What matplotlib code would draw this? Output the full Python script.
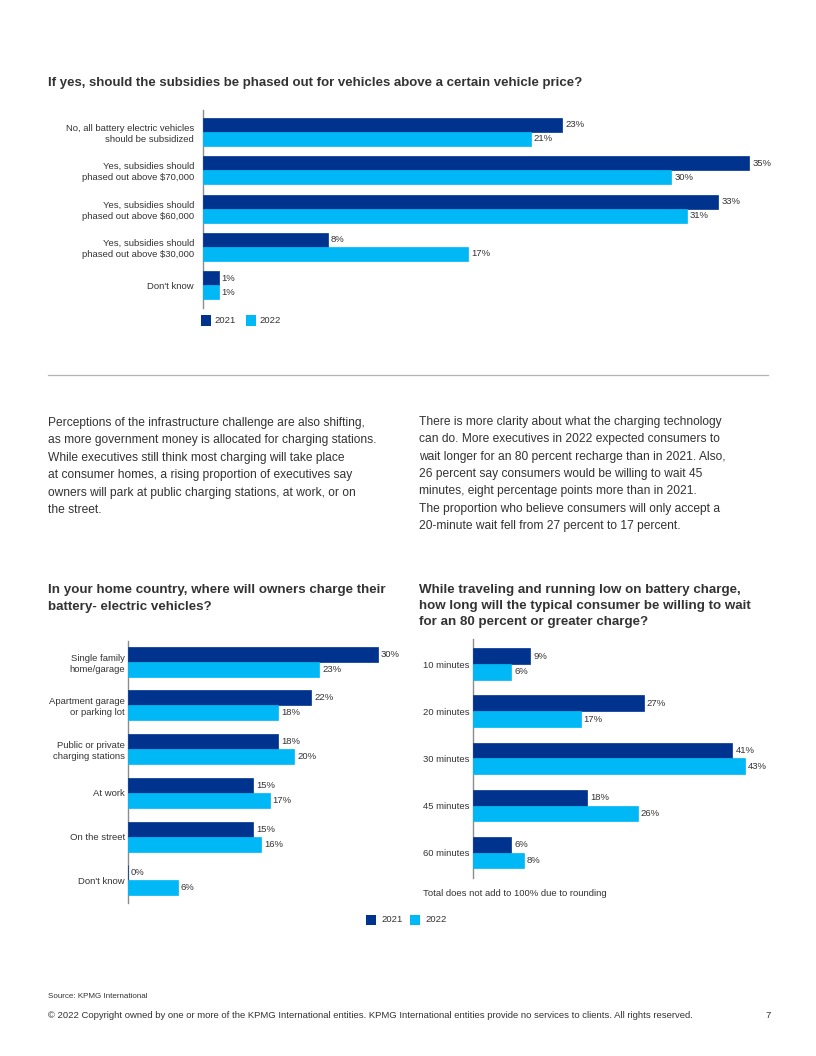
import matplotlib
matplotlib.use("Agg")
import matplotlib.pyplot as plt
import numpy as np
from matplotlib.patches import Rectangle
from matplotlib.lines import Line2D

plt.rcParams['font.family'] = ['Liberation Sans', 'DejaVu Sans']

W, H = 816, 1056
DARK = '#00338D'
LIGHT = '#00B8F5'
TXT = '#333333'
AXC = '#8c8c8c'

# ---------------- data ----------------
series_names = ["2021", "2022"]

q1_title = "If yes, should the subsidies be phased out for vehicles above a certain vehicle price?"
q1_cats = ["No, all battery electric vehicles\nshould be subsidized",
           "Yes, subsidies should\nphased out above $70,000",
           "Yes, subsidies should\nphased out above $60,000",
           "Yes, subsidies should\nphased out above $30,000",
           "Don't know"]
q1_2021 = [23, 35, 33, 8, 1]
q1_2022 = [21, 30, 31, 17, 1]

q2_title = "In your home country, where will owners charge their\nbattery- electric vehicles?"
q2_cats = ["Single family\nhome/garage", "Apartment garage\nor parking lot",
           "Public or private\ncharging stations", "At work", "On the street", "Don't know"]
q2_2021 = [30, 22, 18, 15, 15, 0]
q2_2022 = [23, 18, 20, 17, 16, 6]

q3_title = ("While traveling and running low on battery charge,\n"
            "how long will the typical consumer be willing to wait\n"
            "for an 80 percent or greater charge?")
q3_cats = ["10 minutes", "20 minutes", "30 minutes", "45 minutes", "60 minutes"]
q3_2021 = [9, 27, 41, 18, 6]
q3_2022 = [6, 17, 43, 26, 8]
q3_note = "Total does not add to 100% due to rounding"

para_left = ["Perceptions of the infrastructure challenge are also shifting,",
             "as more government money is allocated for charging stations.",
             "While executives still think most charging will take place",
             "at consumer homes, a rising proportion of executives say",
             "owners will park at public charging stations, at work, or on",
             "the street."]
para_right = ["There is more clarity about what the charging technology",
              "can do. More executives in 2022 expected consumers to",
              "wait longer for an 80 percent recharge than in 2021. Also,",
              "26 percent say consumers would be willing to wait 45",
              "minutes, eight percentage points more than in 2021.",
              "The proportion who believe consumers will only accept a",
              "20-minute wait fell from 27 percent to 17 percent."]

source_txt = "Source: KPMG International"
copyright_txt = ("\u00a9 2022 Copyright owned by one or more of the KPMG International entities. "
                 "KPMG International entities provide no services to clients. All rights reserved.")
page_no = "7"

# ---------------- figure ----------------
fig = plt.figure(figsize=(W / 100, H / 100), dpi=100)
fig.patch.set_facecolor('white')


def fx(x):
    return x / W


def fy(y):
    return 1 - y / H


def ftext(x, y, s, **kw):
    kw.setdefault('color', TXT)
    kw.setdefault('va', 'center')
    return fig.text(fx(x), fy(y), s, **kw)


def lines_text(x, y, step, s, **kw):
    for i, line in enumerate(s.split("\n")):
        ftext(x, y + i * step, line, **kw)


def bar_chart(x0, y0, x1, y1, cats, v1, v2, xmax, top_off, bot_off, bh, lab_pad, lab_fs=6.8):
    ax = fig.add_axes([fx(x0), fy(y1), (x1 - x0) / W, (y1 - y0) / H])
    n = len(cats)
    y = np.arange(n)
    ax.barh(y - bh / 2, v1, height=bh, color=DARK, edgecolor=DARK, linewidth=0.5)
    ax.barh(y + bh / 2, v2, height=bh, color=LIGHT, edgecolor=LIGHT, linewidth=0.5)
    ax.set_xlim(0, xmax)
    ax.set_ylim(n - 1 + bot_off, -top_off)
    for s in ['top', 'right', 'bottom']:
        ax.spines[s].set_visible(False)
    ax.spines['left'].set_color(AXC)
    ax.spines['left'].set_linewidth(1.0)
    ax.spines['left'].set_zorder(0.5)
    ax.set_xticks([])
    ax.set_yticks(y)
    ax.set_yticklabels(cats, fontsize=lab_fs, color=TXT, linespacing=1.3)
    ax.tick_params(axis='y', length=0, pad=lab_pad)
    ax.patch.set_alpha(0)
    for vals, off in ((v1, -bh / 2), (v2, bh / 2)):
        for i, v in enumerate(vals):
            ax.annotate(f"{v}%", xy=(v, i + off), xytext=(3, 0), textcoords='offset pixels',
                        fontsize=6.8, color=TXT, va='center', ha='left', annotation_clip=False)
    return ax


def legend_at(x, y, gap, txt_off):
    for k, (name, col) in enumerate(zip(series_names, (DARK, LIGHT))):
        xx = x + k * gap
        fig.add_artist(Rectangle((fx(xx), fy(y + 5)), 10 / W, 10 / H, transform=fig.transFigure,
                                 color=col, linewidth=0))
        ftext(xx + txt_off, y, name, fontsize=6.8)


# ----- chart 1 -----
ftext(48, 83, q1_title, fontsize=9.5, fontweight='bold')
bar_chart(203, 110, 765, 308, q1_cats, q1_2021, q1_2022, 36.0, 0.565, 0.59, 0.365, 6.5)
legend_at(201, 320.5, 45, 13)

# separator
fig.add_artist(Line2D([fx(48), fx(768)], [fy(375), fy(375)], transform=fig.transFigure,
                      color='#b4b4b4', linewidth=0.9))

# paragraphs
for i, line in enumerate(para_left):
    ftext(48, 423 + i * 17.4, line, fontsize=8.65)
for i, line in enumerate(para_right):
    ftext(419, 422 + i * 17.35, line, fontsize=8.65)

# ----- chart 2 -----
lines_text(48, 590.5, 16.5, q2_title, fontsize=9.6, fontweight='bold')
bar_chart(128, 641, 411, 903, q2_cats, q2_2021, q2_2022, 34.0, 0.47, 0.52, 0.343, 2.2)

# ----- chart 3 -----
lines_text(419, 590.5, 16.0, q3_title, fontsize=9.6, fontweight='bold')
bar_chart(473.3, 639, 764, 878, q3_cats, q3_2021, q3_2022, 46.0, 0.53, 0.536, 0.333, 2.9)
ftext(423, 894, q3_note, fontsize=6.8)

legend_at(366, 919.5, 44, 15.5)

# footer
ftext(48, 996, source_txt, fontsize=5.8)
ftext(48, 1015, copyright_txt, fontsize=6.8)
ftext(765, 1015, page_no, fontsize=6.8)

fig.savefig("out.png", dpi=100, facecolor='white')
